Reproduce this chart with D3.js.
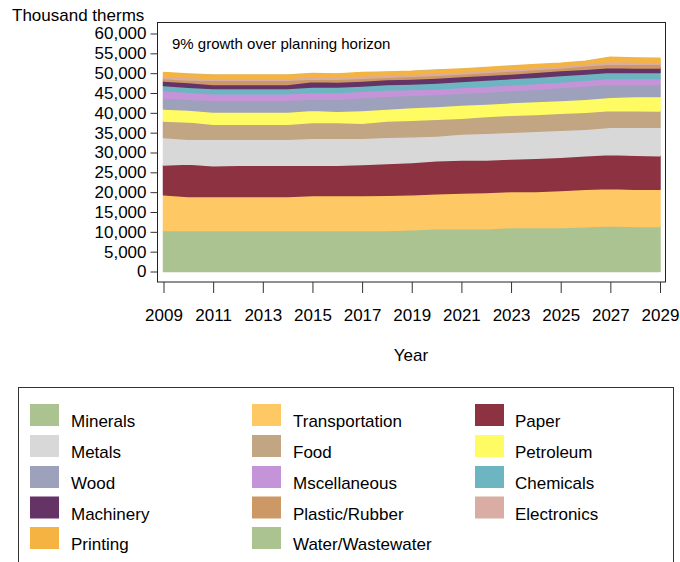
<!DOCTYPE html>
<html>
<head>
<meta charset="utf-8">
<script src="https://cdn.jsdelivr.net/npm/d3@7"></script>
<style>
  body { margin: 0; background: #fff; }
  svg { display: block; font-family: "Liberation Sans", Arial, sans-serif; }
</style>
</head>
<body>
<svg id="chart" width="680" height="562"></svg>
<script>
const years = [2009,2010,2011,2012,2013,2014,2015,2016,2017,2018,2019,2020,2021,2022,2023,2024,2025,2026,2027,2028,2029];
const xTickYears = [2009,2011,2013,2015,2017,2019,2021,2023,2025,2027,2029];
const yTicks = [0,5000,10000,15000,20000,25000,30000,35000,40000,45000,50000,55000,60000];

const minerals        = [10330,10330,10330,10330,10330,10330,10330,10330,10330,10330,10500,10750,10750,10750,11090,11090,11090,11260,11510,11340,11340];
const transportation  = [8990,8570,8570,8570,8570,8570,8820,8820,8820,8900,8820,8820,9070,9160,9070,9070,9320,9490,9410,9410,9410];
const paper           = [7560,8230,7730,7900,7900,7900,7640,7640,7810,7980,8150,8320,8320,8230,8230,8400,8400,8400,8570,8570,8400];
const metals          = [6890,6220,6720,6550,6550,6550,6800,6890,6640,6640,6470,6300,6550,6720,6720,6800,6800,6720,6890,7060,7220];
const food            = [4200,4370,3780,3780,3780,3780,3950,3860,3780,4120,4200,4200,3950,4200,4280,4200,4280,4280,4200,4120,4120];
const petroleum       = [3020,3020,3110,3110,3110,3110,3110,2860,3190,3020,3190,3190,3360,3190,3190,3280,3190,3280,3360,3610,3610];
const wood            = [2770,2690,2940,2940,2940,2940,2860,3020,3280,3190,3110,3020,2940,3020,3020,3110,3280,3360,3280,3020,3020];
const miscellaneous   = [1850,1760,1600,1600,1600,1600,1680,1680,1600,1600,1430,1430,1430,1430,1430,1430,1430,1430,1510,1510,1510];
const chemicals       = [1260,1260,1340,1340,1340,1340,1340,1430,1340,1340,1430,1510,1510,1600,1600,1600,1600,1600,1510,1510,1510];
const machinery       = [1180,1180,1010,1010,1010,1010,1340,1260,1260,1260,1260,1260,1260,1180,1180,1260,1260,1180,1180,1180,1180];
const plasticRubber   = [590,670,1090,1090,1090,1090,670,670,670,590,670,670,670,670,760,670,670,840,920,920,920];
const electronics     = [590,590,420,420,420,420,590,590,590,500,500,590,500,590,500,500,500,500,590,590,500];
const printing        = [920,920,920,920,920,920,760,760,840,840,760,760,760,670,760,760,670,670,1090,1010,1010];
const waterWastewater = [40,40,40,40,40,40,40,40,40,40,40,40,40,40,40,40,40,40,40,40,40];

const seriesNames = ["Minerals","Transportation","Paper","Metals","Food","Petroleum","Wood","Miscellaneous","Chemicals","Machinery","Plastic/Rubber","Electronics","Printing","Water/Wastewater"];
const seriesValues = [minerals,transportation,paper,metals,food,petroleum,wood,miscellaneous,chemicals,machinery,plasticRubber,electronics,printing,waterWastewater];
const colors = ["#abc391","#fec864","#8c3241","#d8d8d8","#c2a582","#fefc62","#9ea1bb","#c594d8","#6db5c1","#663366","#cc9966","#d9ada3","#f5b342","#abc391"];
const legendLabels = ["Minerals","Transportation","Paper","Metals","Food","Petroleum","Wood","Mscellaneous","Chemicals","Machinery","Plastic/Rubber","Electronics","Printing","Water/Wastewater"];

const table = years.map((yr, i) => {
  const row = { year: yr };
  seriesNames.forEach((n, k) => { row[n] = seriesValues[k][i]; });
  return row;
});

const svg = d3.select("#chart");
const font = "17px";

const x = d3.scaleLinear().domain([2009, 2029]).range([163.5, 660]);
const y = d3.scaleLinear().domain([0, 60000]).range([271.5, 33.5]);

const stack = d3.stack().keys(seriesNames);
const layers = stack(table);

const area = d3.area()
  .x(d => x(d.data.year))
  .y0(d => y(d[0]))
  .y1(d => y(d[1]));

// frame
svg.append("rect")
  .attr("x", 157.5).attr("y", 22.5)
  .attr("width", 508).attr("height", 259.5)
  .attr("fill", "#fff").attr("stroke", "#222").attr("stroke-width", 1);

svg.append("g").selectAll("path")
  .data(layers)
  .join("path")
  .attr("d", area)
  .attr("fill", (d, i) => colors[i])
  .attr("stroke", (d, i) => i === seriesNames.length - 1 ? "none" : colors[i])
  .attr("stroke-width", 1.5)
  .attr("stroke-linejoin", "round");

// y axis
const yAxis = d3.axisLeft(y).tickValues(yTicks).tickSize(7).tickPadding(4)
  .tickFormat(d3.format(","));
const gy = svg.append("g").attr("transform", "translate(157.5,0)").call(yAxis);
gy.select(".domain").remove();
gy.selectAll("text").attr("font-size", font).attr("fill", "#000").attr("font-family", "Liberation Sans, Arial, sans-serif");
gy.selectAll("line").attr("stroke", "#333");

// x axis
const xAxis = d3.axisBottom(x).tickValues(xTickYears).tickSize(11).tickPadding(16)
  .tickFormat(d3.format("d"));
const gx = svg.append("g").attr("transform", "translate(0,282)").call(xAxis);
gx.select(".domain").remove();
gx.selectAll("text").attr("font-size", font).attr("fill", "#000").attr("font-family", "Liberation Sans, Arial, sans-serif");
gx.selectAll("line").attr("stroke", "#333");

// titles
svg.append("text").attr("x", 12).attr("y", 21).attr("font-size", font).attr("fill", "#000").text("Thousand therms");
svg.append("text").attr("x", 411).attr("y", 361).attr("text-anchor", "middle").attr("font-size", font).attr("fill", "#000").text("Year");
svg.append("text").attr("x", 172).attr("y", 49).attr("font-size", "15px").attr("fill", "#000").text("9% growth over planning horizon");

// legend
svg.append("rect").attr("x", 18.5).attr("y", 387.5).attr("width", 655).attr("height", 200)
  .attr("fill", "none").attr("stroke", "#333").attr("stroke-width", 1);

const colX = [30, 252, 475];
const textX = [71, 293, 515];
const rowY = [404, 435, 466, 496.5, 527];
const lg = svg.append("g");
legendLabels.forEach((lab, i) => {
  const c = i % 3, r = Math.floor(i / 3);
  lg.append("rect").attr("x", colX[c]).attr("y", rowY[r]).attr("width", 29).attr("height", 22).attr("fill", colors[i]);
  lg.append("text").attr("x", textX[c]).attr("y", rowY[r] + 23).attr("font-size", font).attr("fill", "#000").text(lab);
});
</script>
</body>
</html>
